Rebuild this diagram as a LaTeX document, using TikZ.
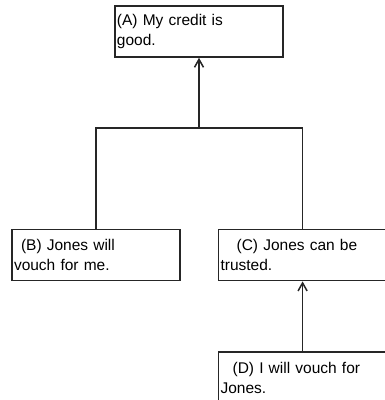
\documentclass[tikz,border=0pt]{standalone}
\usepackage{fontspec}
\setmainfont{Liberation Sans}
\usetikzlibrary{positioning,arrows.meta}

\begin{document}
\begin{tikzpicture}[x=1pt, y=-1pt, >={Straight Barb[length=8pt, width=9pt]},
  claim/.style={rectangle, draw=black!85, line width=1.6pt, text width=164pt, inner xsep=2pt, inner ysep=0pt, minimum height=51pt, align=left, font=\fontsize{15.5}{20}\selectfont},
  link/.style={draw=black!85, line width=1.5pt}]
\useasboundingbox (0,0) rectangle (384,400);
\node[claim] at (199,31.5) (a) {(A) My credit is\\good.};
\node[claim, below = 171pt of a, xshift=-103pt] (b) {\hspace*{7pt}(B) Jones will\\vouch for me.};
\node[claim, right = 37pt of b] (c) {\hspace*{16pt}(C) Jones can be\\trusted.};
\node[claim, below = 70pt of c] (d) {\hspace*{12pt}(D) I will vouch for\\Jones.};
\coordinate[below = 70pt of a] (fork);
\draw[link, ->] (fork) -- (a);
\draw[link] (b.north) |- (fork) -| (c.north);
\draw[link, ->] (d) -- (c);
\end{tikzpicture}
\end{document}
